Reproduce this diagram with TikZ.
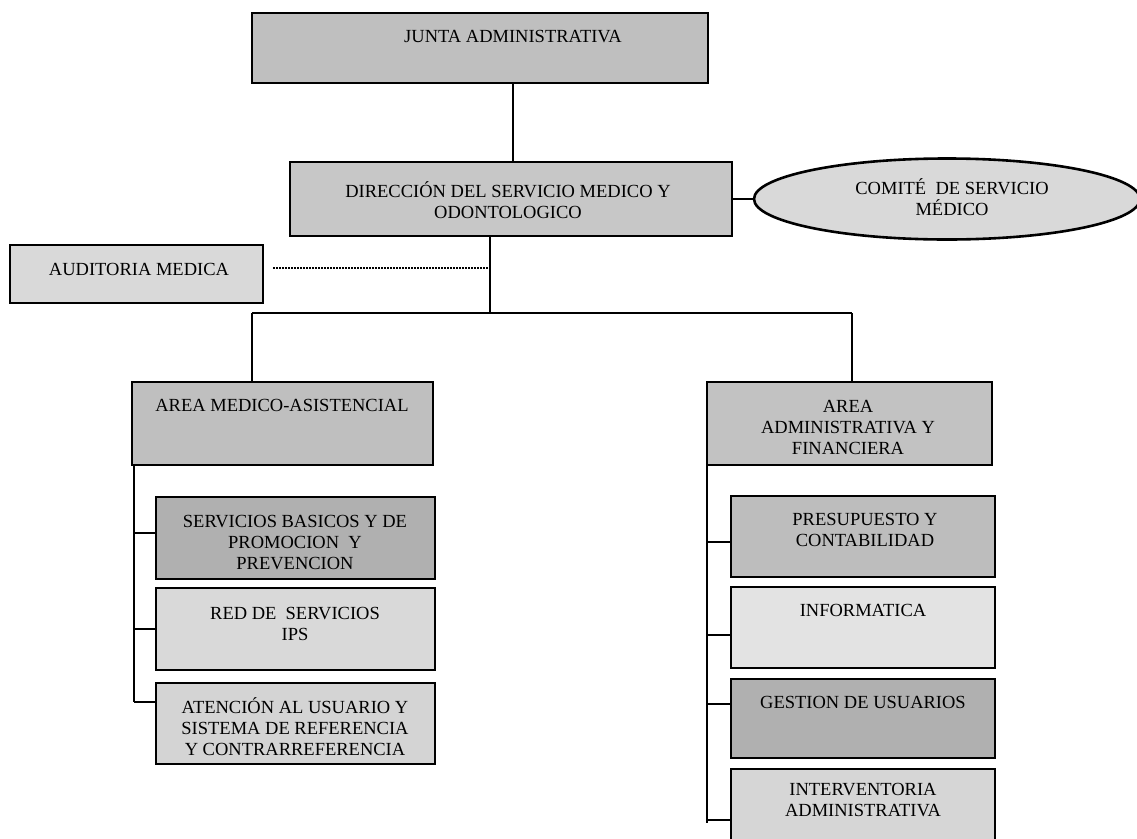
\documentclass[tikz,border=0pt]{standalone}
\usepackage{fontspec}
\setmainfont{Liberation Serif}
\usetikzlibrary{shapes.geometric}
\begin{document}
\begin{tikzpicture}[x=1pt,y=-1pt,
  box/.style={draw, line width=2.6pt, rectangle, inner sep=0pt, outer sep=0pt},
  oval/.style={draw, line width=2.6pt, ellipse, inner sep=0pt, outer sep=0pt},
  lbl/.style={font=\fontsize{18.5}{21}\selectfont, align=center, inner sep=0pt, text=black},
  conn/.style={line width=2pt},
  dotline/.style={line width=1.7pt, dash pattern=on 1.5pt off 1.5pt}]
\useasboundingbox (0,0) rectangle (1137,838);
\fill[white] (0,0) rectangle (1137,838);

% boxes
\node[box, fill=black!25, minimum width=456pt, minimum height=70pt] (junta) at (480,48) {};
\node[box, fill=black!22, minimum width=442pt, minimum height=74pt] (dir) at (511,199) {};
\node[oval, fill=black!15, minimum width=386pt, minimum height=81pt] (com) at (947,199) {};
\node[box, fill=black!15, minimum width=253pt, minimum height=58pt] (aud) at (136.5,274) {};
\node[box, fill=black!25, minimum width=301pt, minimum height=83pt] (am) at (282.5,423.5) {};
\node[box, fill=black!24, minimum width=285pt, minimum height=83pt] (aa) at (849.5,423.5) {};
\node[box, fill=black!31, minimum width=279pt, minimum height=82pt] (sb) at (295.5,538) {};
\node[box, fill=black!15, minimum width=279pt, minimum height=82pt] (red) at (295.5,629) {};
\node[box, fill=black!17, minimum width=279pt, minimum height=81pt] (aten) at (295.5,723.5) {};
\node[box, fill=black!26, minimum width=264pt, minimum height=81pt] (pres) at (863,536.5) {};
\node[box, fill=black!11, minimum width=264pt, minimum height=81pt] (inf) at (863,627.5) {};
\node[box, fill=black!31, minimum width=264pt, minimum height=79pt] (ges) at (863,718.5) {};
\node[box, fill=black!16, minimum width=264pt, minimum height=81pt] (int) at (863,809.5) {};

% texts
\node[lbl] (tjunta) at (513,37) {JUNTA ADMINISTRATIVA};
\node[lbl] (tdir) at (508,200) {DIRECCIÓN DEL SERVICIO MEDICO Y\\ODONTOLOGICO};
\node[lbl] (tcom) at (952,197) {COMITÉ~ DE SERVICIO\\MÉDICO};
\node[lbl] (taud) at (139,269) {AUDITORIA MEDICA};
\node[lbl] (tam) at (282,405) {AREA MEDICO-ASISTENCIAL};
\node[lbl] (taa) at (848,427) {AREA\\ADMINISTRATIVA Y\\FINANCIERA};
\node[lbl] (tsb) at (295,543) {SERVICIOS BASICOS Y DE\\PROMOCION~ Y\\PREVENCION};
\node[lbl] (tred) at (295,623.5) {RED DE~ SERVICIOS\\IPS};
\node[lbl] (taten) at (295,727) {ATENCIÓN AL USUARIO Y\\SISTEMA DE REFERENCIA\\Y CONTRARREFERENCIA};
\node[lbl] (tpres) at (865,529.5) {PRESUPUESTO Y\\CONTABILIDAD};
\node[lbl] (tinf) at (863,610) {INFORMATICA};
\node[lbl] (tges) at (863,702) {GESTION DE USUARIOS};
\node[lbl] (tint) at (863,800) {INTERVENTORIA\\ADMINISTRATIVA};

% coordinates
\coordinate (jx) at (513,0);
\coordinate (dx) at (490,0);
\coordinate (hub) at (490,313);
\coordinate (hl) at (252,313);
\coordinate (hr) at (852,313);
\coordinate (dots) at (273,268);
\coordinate (dotj) at (489,268);
\coordinate (lx) at (134,0);
\coordinate (lt1) at (134,533);
\coordinate (lt2) at (134,629);
\coordinate (lt3) at (134,702);
\coordinate (rx) at (707,0);
\coordinate (rt1) at (707,542);
\coordinate (rt2) at (707,635);
\coordinate (rt3) at (707,704);
\coordinate (rt4) at (707,820);
\coordinate (rend) at (707,823);

% connectors
\draw[conn] (junta.south -| jx) -- (dir.north -| jx);
\draw[conn] (dir.east) -- (com.west);
\draw[conn] (dir.south -| dx) -- (hub);
\draw[dotline] (dots) -- (dotj);
\draw[conn] (hl) -- (hr);
\draw[conn] (hl) -- (am.north -| hl);
\draw[conn] (hr) -- (aa.north -| hr);
\draw[conn] (am.south -| lx) -- (lt3);
\draw[conn] (lt1) -- (lt1 -| sb.west);
\draw[conn] (lt2) -- (lt2 -| red.west);
\draw[conn] (lt3) -- (lt3 -| aten.west);
\draw[conn] (aa.south -| rx) -- (rend);
\draw[conn] (rt1) -- (rt1 -| pres.west);
\draw[conn] (rt2) -- (rt2 -| inf.west);
\draw[conn] (rt3) -- (rt3 -| ges.west);
\draw[conn] (rt4) -- (rt4 -| int.west);
\end{tikzpicture}
\end{document}
